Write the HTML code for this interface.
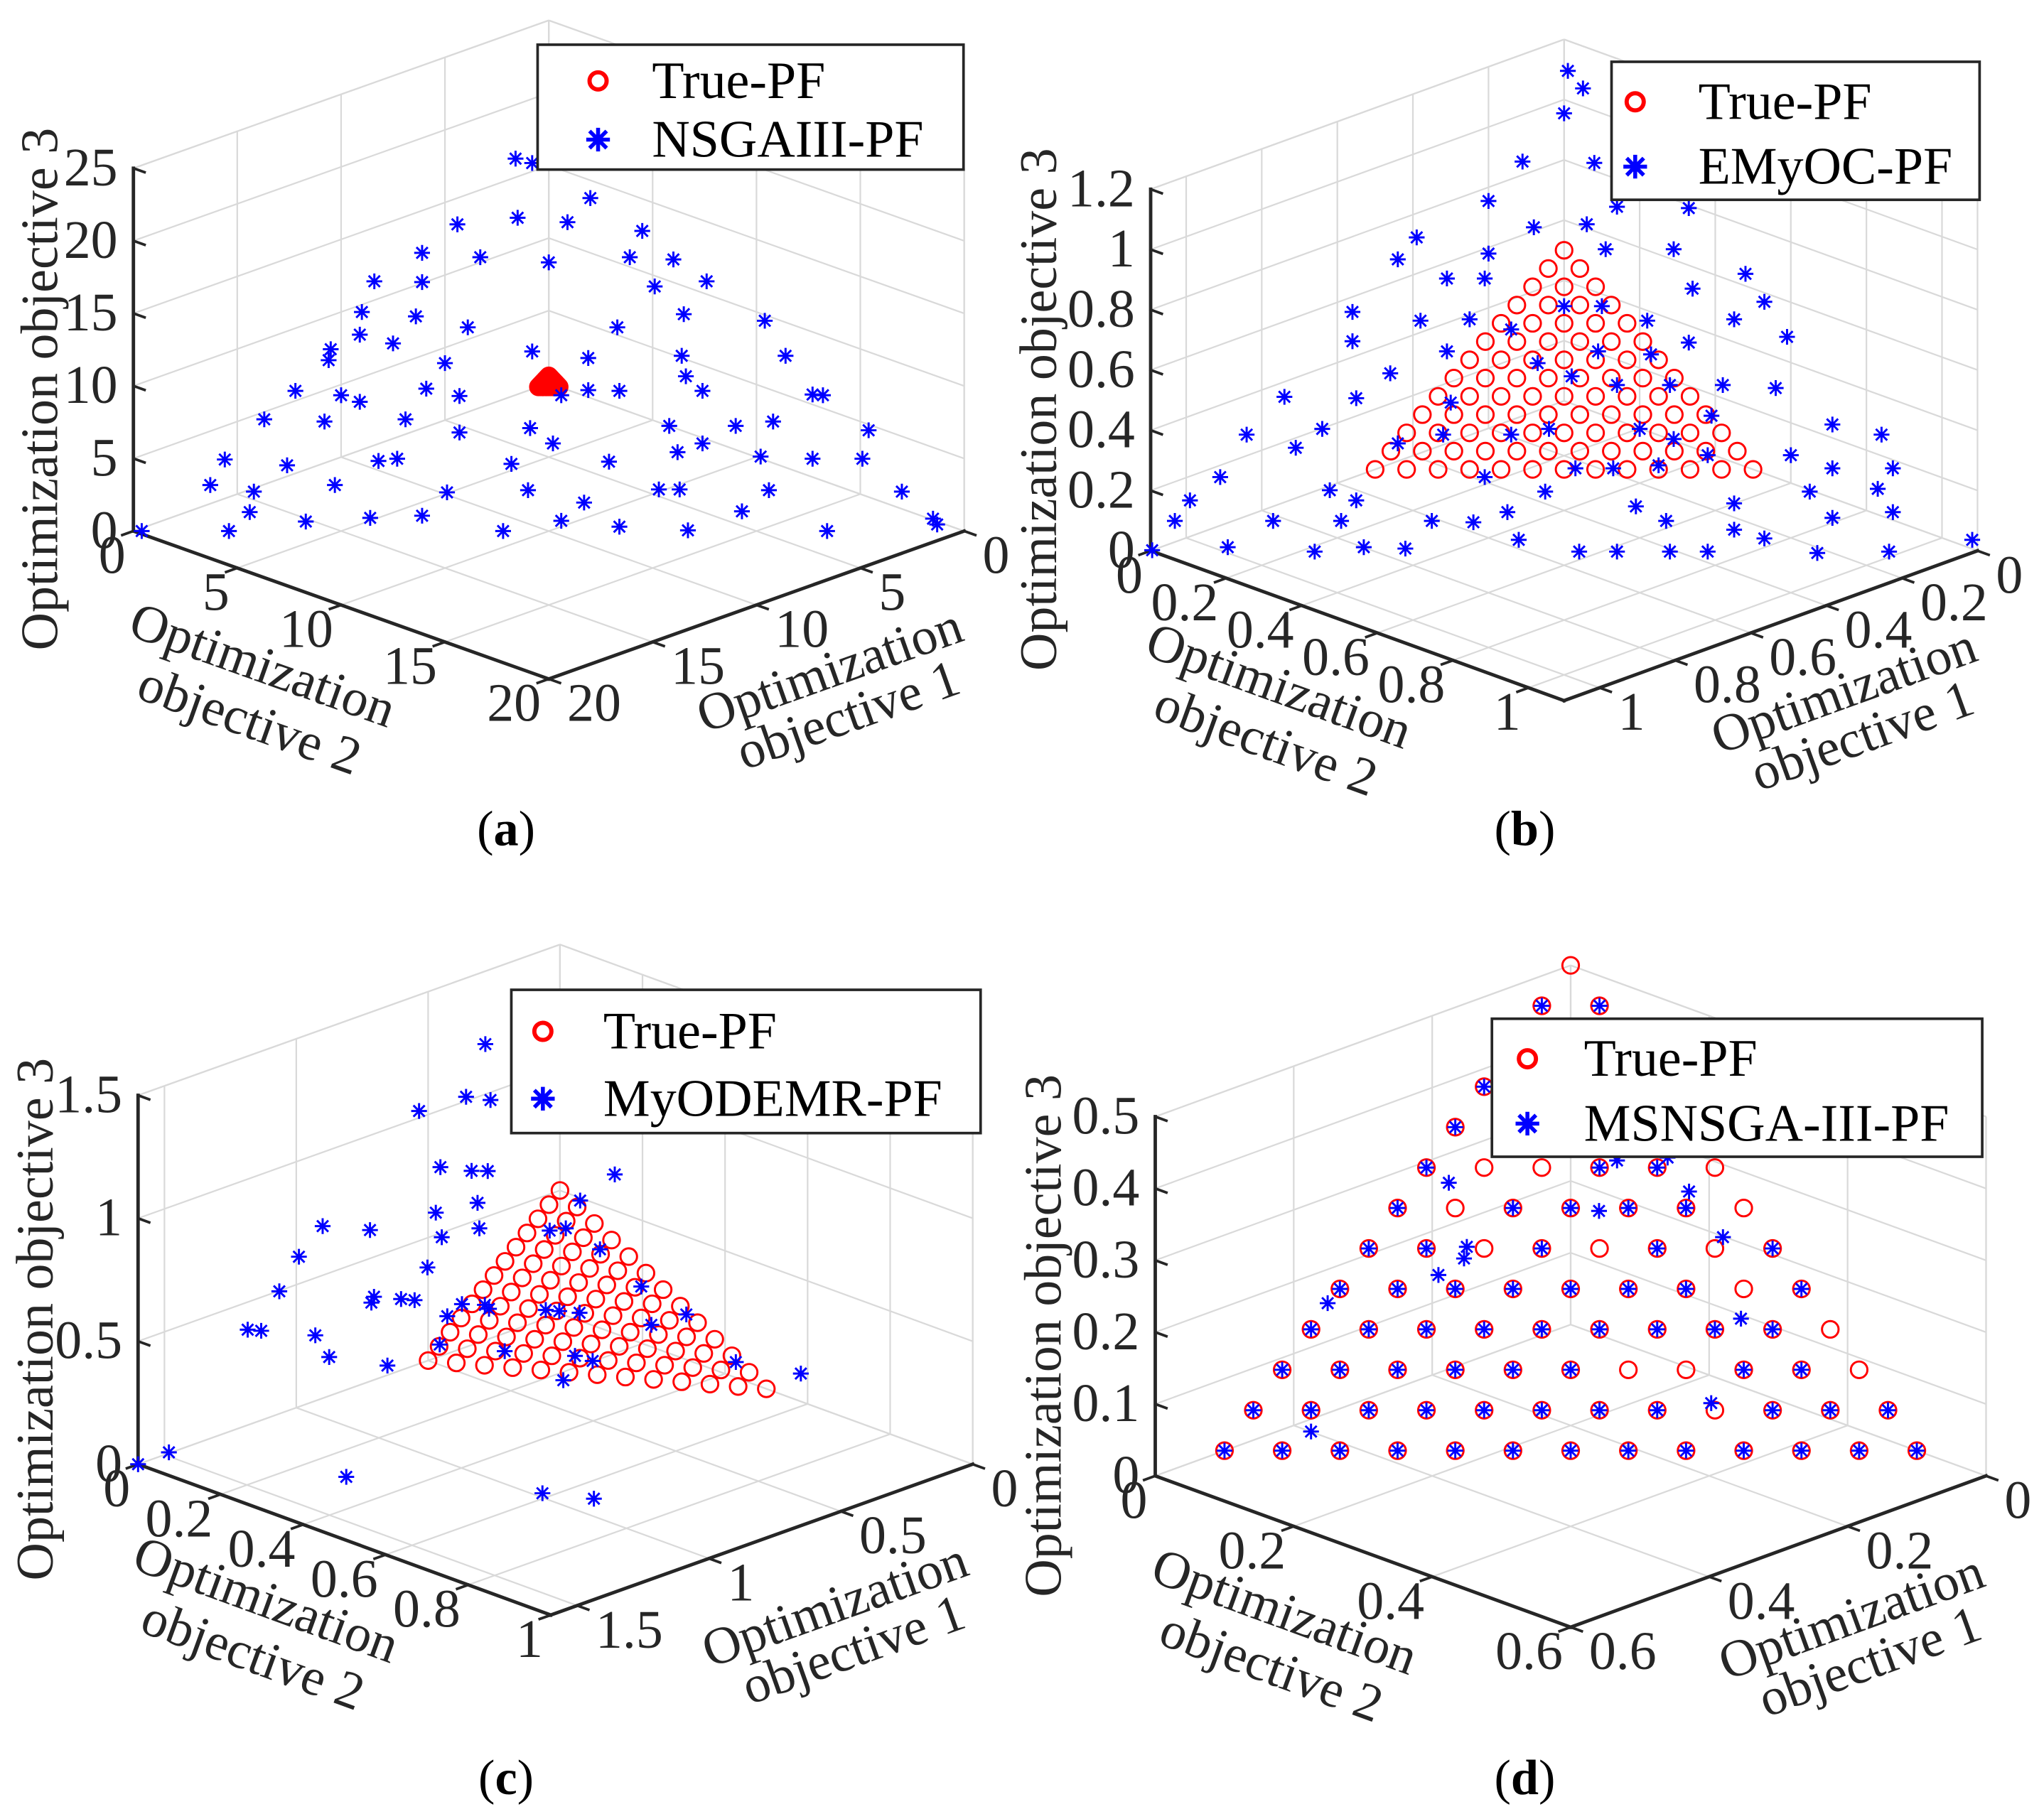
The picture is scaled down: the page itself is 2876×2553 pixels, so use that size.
<!DOCTYPE html>
<html><head><meta charset="utf-8"><title>Pareto fronts</title>
<style>
html,body{margin:0;padding:0;background:#fff;}
svg{display:block;}
text{font-family:"Liberation Serif","DejaVu Serif",serif;fill:#262626;}
</style></head>
<body>
<svg id="fig" xmlns="http://www.w3.org/2000/svg" width="2876" height="2553" viewBox="0 0 1555 1380" preserveAspectRatio="none">
<rect x="0" y="0" width="1555" height="1380" fill="#fff"/>
</svg>
<script>
// ---------- DATA ----------
// True Pareto front (shared by all panels): numerators of 1/24
const trueScale = 1/24;
const trueN1 = [12,11,10,9,8,7,6,5,4,3,2,1,0, 11,10,9,8,7,6,5,4,3,2,1,0, 10,9,8,7,6,5,4,3,2,1,0, 9,8,7,6,5,4,3,2,1,0, 8,7,6,5,4,3,2,1,0, 7,6,5,4,3,2,1,0, 6,5,4,3,2,1,0, 5,4,3,2,1,0, 4,3,2,1,0, 3,2,1,0, 2,1,0, 1,0, 0];
const trueN2 = [0,1,2,3,4,5,6,7,8,9,10,11,12, 0,1,2,3,4,5,6,7,8,9,10,11, 0,1,2,3,4,5,6,7,8,9,10, 0,1,2,3,4,5,6,7,8,9, 0,1,2,3,4,5,6,7,8, 0,1,2,3,4,5,6,7, 0,1,2,3,4,5,6, 0,1,2,3,4,5, 0,1,2,3,4, 0,1,2,3, 0,1,2, 0,1, 0];
const trueN3 = [0,0,0,0,0,0,0,0,0,0,0,0,0, 1,1,1,1,1,1,1,1,1,1,1,1, 2,2,2,2,2,2,2,2,2,2,2, 3,3,3,3,3,3,3,3,3,3, 4,4,4,4,4,4,4,4,4, 5,5,5,5,5,5,5,5, 6,6,6,6,6,6,6, 7,7,7,7,7,7, 8,8,8,8,8, 9,9,9,9, 10,10,10, 11,11, 12];

// (a) NSGAIII-PF
const aO1 = [2.3,2.0,1.4,5.2,3.6,2.5,0.9,6.7,5.4,3.9,1.8,0.8,8.5,7.4,1.9,0.5,9.5,8.3,1.8,0.0,10.1,9.5,7.3,3.7,11.1,11.4,6.3,5.1,2.8,0.3,8.7,3.2,12.9,11.9,11.6,9.7,9.1,6.6,5.8,5.1,3.1,0.5,0.3,14.3,12.9,10.9,9.9,8.1,4.7,3.1,2.1,0.0,7.9,4.3,16.2,14.8,12.5,12.0,9.4,7.0,5.1,3.2,2.0,0.8,17.1,16.2,14.1,11.6,9.6,8.5,6.4,5.9,3.8,0.6,16.8,15.6,14.0,12.7,9.5,8.2,4.9,0.5,0.5,19.8,17.7,11.1,6.6,3.3];
const aO2 = [0.7,1.2,3.4,0.8,2.1,3.4,5.4,0.6,2.1,3.9,5.7,6.8,0.1,1.3,7.0,8.1,0.5,1.9,8.3,10.4,1.0,2.0,3.4,7.0,0.6,0.8,5.5,7.0,9.2,11.7,3.7,9.8,0.7,1.9,2.5,3.8,4.8,7.2,7.7,8.5,10.5,13.2,13.5,0.6,2.1,4.0,5.6,7.2,10.5,12.1,12.9,15.4,8.1,11.7,0.6,2.2,4.3,4.7,7.6,9.9,11.3,13.4,14.7,15.9,0.8,2.0,3.8,6.7,8.6,10.2,11.7,12.2,14.4,17.6,2.4,3.9,5.4,6.6,10.1,11.6,14.2,19.0,19.2,0.2,2.3,8.9,13.3,16.7];
const aO3 = [17.0,16.8,15.2,14.0,14.3,14.1,13.7,12.7,12.5,12.3,12.5,12.4,11.4,11.4,11.2,11.4,10.0,9.8,9.9,9.6,9.0,8.6,9.3,9.3,8.3,7.8,8.2,7.9,8.0,8.0,7.7,7.1,6.4,6.2,5.9,6.5,6.2,6.2,6.4,6.4,6.4,6.2,6.2,5.1,5.0,5.1,4.5,4.7,4.8,4.8,5.0,4.6,4.0,4.0,3.3,3.0,3.2,3.3,3.1,3.2,3.6,3.4,3.3,3.3,2.1,1.8,2.1,1.8,1.9,1.3,1.9,1.9,1.9,1.8,0.9,0.4,0.6,0.7,0.5,0.2,0.9,0.6,0.3,0.0,0.0,0.0,0.0,0.0];

// (b) EMyOC-PF
const bO1 = [0,0,0.05,0.16,0.07,0.25,0.09,0,0.39,0.22,0.15,0.44,0.31,0.15,0.06,0.39,0.34,0,0.08,0.56,0.27,0.22,0,0.48,0.41,0.18,0.06,0.59,0.37,0.15,0.01,0.48,0.28,0.21,0.58,0.37,0.34,0.29,0.22,0.15,0.08,0.74,0.65,0.53,0.20,0.05,0,0.73,0.84,0.79,0.58,0.49,0.43,0.31,0.28,0.65,0.25,0.14,0.92,0.44,0.39,0.33,0.10,0.02,0.57,0.99,0.79,0.77,0.51,0.16,0.06,1.03,0.90,0.81,0.69,0.64,0.58,0.40,0.38,0.27,0.16,0.07,1.09,0.99,0.88,0.81,0.76,0.60,0.30,0.27,0.53,0.48,0.41,0.36,0.22,0.12,0];
const bO2 = [0.01,0.05,0.05,0.05,0.15,0.05,0.23,0.33,0,0.14,0.21,0,0.11,0.26,0.35,0.08,0.13,0.48,0.42,0,0.27,0.32,0.53,0.10,0.16,0.40,0.51,0.03,0.23,0.48,0.60,0.17,0.37,0.44,0.12,0.30,0.36,0.43,0.50,0.57,0.64,0,0.10,0.23,0.59,0.76,0.84,0.09,0,0.08,0.26,0.35,0.39,0.51,0.57,0.21,0.63,0.74,0.01,0.47,0.52,0.58,0.81,0.89,0.36,0,0.17,0.22,0.46,0.81,0.89,0,0.13,0.22,0.34,0.40,0.43,0.59,0.65,0.72,0.87,0.94,0,0.10,0.22,0.28,0.34,0.48,0.75,0.80,0.57,0.62,0.69,0.74,0.89,0.98,1.08];
const bO3 = [1.10,1.06,1.00,0.89,0.89,0.80,0.79,0.79,0.72,0.74,0.75,0.67,0.68,0.69,0.69,0.62,0.62,0.64,0.60,0.55,0.56,0.56,0.57,0.53,0.53,0.53,0.53,0.48,0.51,0.48,0.49,0.46,0.46,0.45,0.41,0.43,0.40,0.38,0.38,0.38,0.37,0.35,0.35,0.34,0.31,0.29,0.27,0.28,0.27,0.24,0.27,0.27,0.28,0.28,0.26,0.25,0.22,0.22,0.17,0.19,0.19,0.20,0.19,0.19,0.17,0.12,0.14,0.12,0.14,0.14,0.14,0.07,0.07,0.07,0.07,0.07,0.09,0.10,0.07,0.11,0.08,0.09,0,0.01,0,0.01,0.01,0.03,0.05,0.03,0,0,0,0,0,0,0.03];

// (c) MyODEMR-PF
const cO1 = [0.33,0.45,0.42,0.55,0.61,0.57,0.54,0.34,0.44,0.61,0.69,0.90,0.83,0.65,0.73,0.54,0.51,0.49,0.99,0.80,1.08,0.49,0.94,0.95,0.90,0.88,0.81,0.77,0.77,0.85,0.68,0.66,0.63,0.46,0.53,1.20,1.18,1.10,0.91,0.82,0.71,0.69,1.11,1.03,0.46,0.77,0.37,1.60,1.53,1.28,0.99,0.92];
const cO2 = [0.03,0.06,0.10,0.01,0.10,0.15,0.17,0.35,0.33,0.19,0.14,0.00,0.07,0.22,0.18,0.32,0.34,0.41,0.00,0.19,0.01,0.51,0.15,0.15,0.19,0.21,0.28,0.31,0.32,0.27,0.40,0.42,0.45,0.60,0.56,0.01,0.03,0.11,0.29,0.39,0.49,0.52,0.15,0.24,0.72,0.50,0.82,0,0.03,0.30,0.59,0.67];
const cO3 = [1.24,1.09,1.09,1.04,0.89,0.89,0.89,0.91,0.83,0.80,0.76,0.70,0.70,0.73,0.70,0.74,0.75,0.70,0.61,0.61,0.51,0.61,0.52,0.50,0.52,0.52,0.52,0.52,0.51,0.48,0.52,0.52,0.52,0.54,0.50,0.40,0.40,0.40,0.40,0.40,0.40,0.39,0.34,0.33,0.42,0.33,0.40,0,0.04,0.01,0.01,0.01];

// (d) MSNSGA-III-PF : stars on the reference grid (numerators of 1/24) ...
const dGridN1 = [12,11,10,9,8,7,6,5,4,3,2,1,0, 11,10,9,8,7,6,5,4,2,1,0, 10,9,8,7,6,5,2,1, 9,8,7,6,5,4,3,2,1, 8,7,6,5,4,3,2,0, 7,6,4,2,0, 6,4,3,2,1, 5,2,1, 4,3,2,1,0, 3,2,1,0, 2,1,0, 1,0];
const dGridN2 = [0,1,2,3,4,5,6,7,8,9,10,11,12, 0,1,2,3,4,5,6,7,9,10,11, 0,1,2,3,4,5,8,9, 0,1,2,3,4,5,6,7,8, 0,1,2,3,4,5,6,8, 0,1,3,5,7, 0,2,3,4,5, 0,3,4, 0,1,2,3,4, 0,1,2,3, 0,1,2, 0,1];
const dGridN3 = [0,0,0,0,0,0,0,0,0,0,0,0,0, 1,1,1,1,1,1,1,1,1,1,1, 2,2,2,2,2,2,2,2, 3,3,3,3,3,3,3,3,3, 4,4,4,4,4,4,4,4, 5,5,5,5,5, 6,6,6,6,6, 7,7,7, 8,8,8,8,8, 9,9,9,9, 10,10,10, 11,11];
// ... plus off-grid solutions
const dExtraO1 = [0.124,0.428,0.059,0.351,0.220,0.228,0.255,0.030,0.106,0.031,0.200,0.067,0.029];
const dExtraO2 = [0.327,0.053,0.305,0.000,0.070,0.074,0.064,0.250,0.147,0.202,0.024,0.134,0.169];
const dExtraO3 = [0.049,0.020,0.136,0.153,0.210,0.198,0.181,0.220,0.247,0.267,0.276,0.299,0.302];

// tick labels
const ticksA12 = [0,5,10,15,20], ticksA3 = [0,5,10,15,20,25];
const ticksB12 = [0,0.2,0.4,0.6,0.8,1], ticksB3 = [0,0.2,0.4,0.6,0.8,1,1.2];
const ticksC1 = [0,0.5,1,1.5], ticksC2 = [0,0.2,0.4,0.6,0.8,1], ticksC3 = [0,0.5,1,1.5];
const ticksD12 = [0,0.2,0.4,0.6], ticksD3 = [0,0.1,0.2,0.3,0.4,0.5];

// ---------- RENDER ----------
const NS = 'http://www.w3.org/2000/svg';
const svg = document.getElementById('fig');
function el(tag, attrs, parent){
  const e = document.createElementNS(NS, tag);
  for (const k in attrs) e.setAttribute(k, attrs[k]);
  (parent || svg).appendChild(e);
  return e;
}

const panels = [
  {id:'a', B:[417.5,291.5], v1:[-15.8,5.625], v2:[15.8,5.625], kz:11.04, max1:20, max2:20, zmax:25,
   t1:ticksA12, t2:ticksA12, t3:ticksA3, series:'NSGAIII-PF', o1:aO1, o2:aO2, o3:aO3, ztOff:-58,
   legend:{x:409,y:34,w:324,h:95,mk:46,tx:87}, caption:[385,643]},
  {id:'b', B:[1189.9,305], v1:[-287.5,104.2], v2:[287.5,104.2], kz:229.2, max1:1.094, max2:1.094, zmax:1.2,
   t1:ticksB12, t2:ticksB12, t3:ticksB3, series:'EMyOC-PF', o1:bO1, o2:bO2, o3:bO3, ztOff:-72,
   legend:{x:1226,y:47,w:280,h:105,mk:18,tx:66}, caption:[1160,643]},
  {id:'c', B:[426,999.2], v1:[-200.6,71.7], v2:[314,114.7], kz:187.1, max1:1.6, max2:1.0, zmax:1.5,
   t1:ticksC1, t2:ticksC2, t3:ticksC3, series:'MyODEMR-PF', o1:cO1, o2:cO2, o3:cO3, ztOff:-65,
   legend:{x:389,y:753,w:357,h:109,mk:24,tx:70}, caption:[385,1365]},
  {id:'d', B:[1194.9,1007.7], v1:[-526.7,191.8], v2:[526.7,191.8], kz:546.6, max1:0.6, max2:0.6, zmax:0.5,
   t1:ticksD12, t2:ticksD12, t3:ticksD3, series:'MSNSGA-III-PF', o1:null, o2:null, o3:null, ztOff:-72,
   legend:{x:1135,y:775,w:373,h:105,mk:27,tx:70}, caption:[1160,1365]}
];
// panel d star values from grid + extras
{
  const d = panels[3]; d.o1 = []; d.o2 = []; d.o3 = [];
  for (let i=0;i<dGridN1.length;i++){ d.o1.push(dGridN1[i]*trueScale); d.o2.push(dGridN2[i]*trueScale); d.o3.push(dGridN3[i]*trueScale); }
  for (let i=0;i<dExtraO1.length;i++){ d.o1.push(dExtraO1[i]); d.o2.push(dExtraO2[i]); d.o3.push(dExtraO3[i]); }
}

function fmt(v){ return String(Math.round(v*1000)/1000); }

panels.forEach(p => {
  const P = (a,b,c) => [p.B[0]+a*p.v1[0]+b*p.v2[0], p.B[1]+a*p.v1[1]+b*p.v2[1]-c*p.kz];
  const g = el('g', {});
  
  

  // grid
  const grid = el('g', {stroke:'#d9d9d9','stroke-width':1.2,fill:'none'}, g);
  
  
  const line = (A,Bp,par,attrs) => el('line', Object.assign({x1:A[0],y1:A[1],x2:Bp[0],y2:Bp[1]}, attrs||{}), par);
  p.t1.forEach(t => { line(P(t,0,0),P(t,p.max2,0),grid); line(P(t,0,0),P(t,0,p.zmax),grid); });
  p.t2.forEach(t => { line(P(0,t,0),P(p.max1,t,0),grid); line(P(0,t,0),P(0,t,p.zmax),grid); });
  p.t3.forEach(t => { line(P(0,0,t),P(p.max1,0,t),grid); line(P(0,0,t),P(0,p.max2,t),grid); });
  line(P(0,0,p.zmax),P(p.max1,0,p.zmax),grid); line(P(0,0,p.zmax),P(0,p.max2,p.zmax),grid);
  line(P(p.max1,0,0),P(p.max1,0,p.zmax),grid); line(P(0,p.max2,0),P(0,p.max2,p.zmax),grid);

  // axes
  const ax = el('g', {stroke:'#262626','stroke-width':2.6,fill:'none','stroke-linecap':'square'}, g);
  
  
  line(P(p.max1,0,0),P(p.max1,0,p.zmax),ax);
  line(P(p.max1,0,0),P(p.max1,p.max2,0),ax);
  line(P(p.max1,p.max2,0),P(0,p.max2,0),ax);
  const n1 = Math.hypot(p.v1[0],p.v1[1]), n2 = Math.hypot(p.v2[0],p.v2[1]);
  const tl = 9;
  p.t2.forEach(t => { const a=P(p.max1,t,0); line(a,[a[0]+p.v1[0]/n1*tl,a[1]+p.v1[1]/n1*tl],ax,{'stroke-width':2}); });
  p.t1.forEach(t => { const a=P(t,p.max2,0); line(a,[a[0]+p.v2[0]/n2*tl,a[1]+p.v2[1]/n2*tl],ax,{'stroke-width':2}); });
  p.t3.forEach(t => { const a=P(p.max1,0,t); line(a,[a[0]+p.v2[0]/n2*tl,a[1]+p.v2[1]/n2*tl],ax,{'stroke-width':2}); });

  // tick labels
  p.t3.forEach(t => { const a=P(p.max1,0,t);
    const tx = el('text',{x:a[0]-12,y:a[1]+13,'text-anchor':'end','font-size':41},g); tx.textContent=fmt(t);
      });
  p.t2.forEach(t => { const a=P(p.max1,t,0);
    const tx = el('text',{x:a[0]-6,y:a[1]+32,'text-anchor':'end','font-size':41},g); tx.textContent=fmt(t);
      });
  p.t1.forEach(t => { const a=P(t,p.max2,0);
    const tx = el('text',{x:a[0]+14,y:a[1]+32,'text-anchor':'start','font-size':41},g); tx.textContent=fmt(t);
      });

  // axis titles
  const L = P(p.max1,0,0), F = P(p.max1,p.max2,0), R = P(0,p.max2,0), T = P(p.max1,0,p.zmax);
  const zx = L[0]+p.ztOff, zy = (L[1]+T[1])/2+30;
  const zt = el('text',{x:zx,y:zy,'text-anchor':'middle','font-size':40,
    transform:`rotate(-90 ${zx} ${zy})`},g);
  zt.textContent='Optimization objective 3';
   
  const angL = Math.atan2(F[1]-L[1],F[0]-L[0])*180/Math.PI;
  const angR = Math.atan2(F[1]-R[1],F[0]-R[0])*180/Math.PI + 180;
  const mL = [(L[0]+F[0])/2,(L[1]+F[1])/2], mR = [(F[0]+R[0])/2,(F[1]+R[1])/2];
  [['Optimization',-64,58],['objective 2',-74,100]].forEach(([s,dx,dy]) => {
    const x=mL[0]+dx, y=mL[1]+dy;
    const tx = el('text',{x:x,y:y,'text-anchor':'middle','font-size':40,transform:`rotate(${angL} ${x} ${y})`},g);
    tx.textContent=s;   });
  [['Optimization',60,62],['objective 1',74,96]].forEach(([s,dx,dy]) => {
    const x=mR[0]+dx, y=mR[1]+dy;
    const tx = el('text',{x:x,y:y,'text-anchor':'middle','font-size':40,transform:`rotate(${angR} ${x} ${y})`},g);
    tx.textContent=s;   });

  // true PF
  const tg = el('g',{stroke:'#ff0000','stroke-width':1.6,fill:'none'},g);
   
  for (let i=0;i<trueN1.length;i++){
    const q = P(trueN1[i]*trueScale, trueN2[i]*trueScale, trueN3[i]*trueScale);
    const c = el('circle',{cx:q[0],cy:q[1],r:6.3},tg);
     
  }
  // algorithm PF
  const sg = el('g',{stroke:'#0000ff','stroke-width':1.6,fill:'none'},g);
   
  const s = 6, k = 4.3;
  for (let i=0;i<p.o1.length;i++){
    const q = P(p.o1[i],p.o2[i],p.o3[i]);
    const st = el('path',{d:`M${q[0]-s} ${q[1]}H${q[0]+s}M${q[0]} ${q[1]-s}V${q[1]+s}M${q[0]-k} ${q[1]-k}L${q[0]+k} ${q[1]+k}M${q[0]-k} ${q[1]+k}L${q[0]+k} ${q[1]-k}`},sg);
     
  }

  // legend
  const lg = el('g',{},g);
   
  const Lb = p.legend;
  el('rect',{x:Lb.x,y:Lb.y,width:Lb.w,height:Lb.h,fill:'#fff',stroke:'#262626','stroke-width':2},lg);
  const r1 = Lb.y + Lb.h*0.29, r2 = Lb.y + Lb.h*0.76, mx = Lb.x + Lb.mk, txx = Lb.x + Lb.tx;
  const lc = el('circle',{cx:mx,cy:r1,r:6.5,stroke:'#ff0000','stroke-width':3.2,fill:'none'},lg);
   
  const t1 = el('text',{x:txx,y:r1+13,'font-size':40,style:'fill:#000'},lg); t1.textContent='True-PF';
   
  const ls = el('path',{d:`M${mx-9} ${r2}H${mx+9}M${mx} ${r2-9}V${r2+9}M${mx-6.5} ${r2-6.5}L${mx+6.5} ${r2+6.5}M${mx-6.5} ${r2+6.5}L${mx+6.5} ${r2-6.5}`,stroke:'#0000ff','stroke-width':3,fill:'none'},lg);
   
  const t2 = el('text',{x:txx,y:r2+13,'font-size':40,style:'fill:#000'},lg); t2.textContent=p.series;
   

  // caption
  const cap = el('text',{x:p.caption[0],y:p.caption[1],'text-anchor':'middle','font-size':38,style:'fill:#000'},g);
   
  const t0 = el('tspan',{},cap); t0.textContent='(';
  const tb = el('tspan',{'font-weight':'bold'},cap); tb.textContent=p.id;
  const tc = el('tspan',{},cap); tc.textContent=')';
});
</script>
</body></html>
